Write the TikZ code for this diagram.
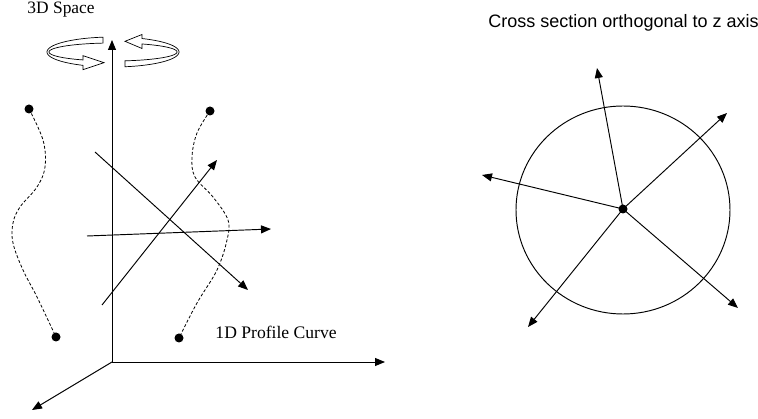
\documentclass[tikz,border=0pt]{standalone}
\usepackage{fontspec}
\setmainfont{Liberation Serif}
\newfontfamily\arialfont{Liberation Sans}
\usetikzlibrary{arrows.meta}
\begin{document}
\begin{tikzpicture}[x=1pt,y=-1pt,line width=0.95pt,
  >={Triangle[length=10pt,width=8pt]},
  dot/.style={circle,fill=black,inner sep=0pt,minimum size=9pt},
  dashline/.style={line width=0.8pt,dash pattern=on 3pt off 2pt},
  band/.style={line width=0.7pt,fill=white,draw=black},
  lbl/.style={anchor=base west,inner sep=0pt}]
\useasboundingbox (0,0) rectangle (758,419);
% texts
\node[lbl,font=\fontsize{17.4}{20}\selectfont] (t1) at (27,14) {3D Space};
\node[lbl,font=\fontsize{17.6}{20}\selectfont] (t2) at (215,339) {1D Profile Curve};
\node[lbl,font=\arialfont\fontsize{18}{21}\selectfont] (t3) at (488,28) {Cross section orthogonal to z axis};
% axes
\coordinate (O) at (112,362);
\coordinate (zt) at (112,40);
\coordinate (xt) at (385,362);
\coordinate (yt) at (32,410);
\draw[->] (O) -- (zt);
\draw[->] (O) -- (xt);
\draw[->] (O) -- (yt);
% rotation bands
\draw[band] plot[domain=-98.7:-243,samples=50] ({113+66*cos(\x)},{52+15*sin(\x)})
  -- (83,69.7) -- (104,62.7) -- (83,55.7)
  -- plot[domain=-242.1:-99,samples=50] ({113+64*cos(\x)},{52+9*sin(\x)}) -- cycle;
\draw[band] plot[domain=-63.9:79.5,samples=50] ({113+66*cos(\x)},{52+15*sin(\x)})
  -- plot[domain=79.2:-63.1,samples=50] ({113+64*cos(\x)},{52+9*sin(\x)})
  -- (142,48.5) -- (125,41.3) -- (142,34.5) -- cycle;
% profile curves
\node[dot] (d1) at (29,109) {};
\node[dot] (d2) at (56,337) {};
\node[dot] (d3) at (210,111) {};
\node[dot] (d4) at (179,338) {};
\draw[dashline] plot[smooth,tension=0.6] coordinates {(d1.center) (43,140) (45,167) (37,187) (20,207) (13,223) (13,243) (23,270) (37,297) (d2.center)};
\draw[dashline] plot[smooth,tension=0.6] coordinates {(d3.center) (197,133) (192,157) (195,177) (213,197) (228,220) (227,240) (217,270) (197,303) (d4.center)};
% direction arrows
\coordinate (a1s) at (95,152);  \coordinate (a1e) at (248,290);
\coordinate (a2s) at (102,305); \coordinate (a2e) at (217,160);
\coordinate (a3s) at (87,236);  \coordinate (a3e) at (271,229);
\draw[->] (a1s) -- (a1e);
\draw[->] (a2s) -- (a2e);
\draw[->] (a3s) -- (a3e);
% cross section
\coordinate (cc) at (623,210);
\draw (cc) ellipse [x radius=107,y radius=104];
\node[dot] (C) at (623,209) {};
\coordinate (r1) at (597,68);
\coordinate (r2) at (727,113);
\coordinate (r3) at (482,175);
\coordinate (r4) at (528,327);
\coordinate (r5) at (738,308);
\foreach \r in {r1,r2,r3,r4,r5} \draw[->] (C.center) -- (\r);
\end{tikzpicture}
\end{document}
